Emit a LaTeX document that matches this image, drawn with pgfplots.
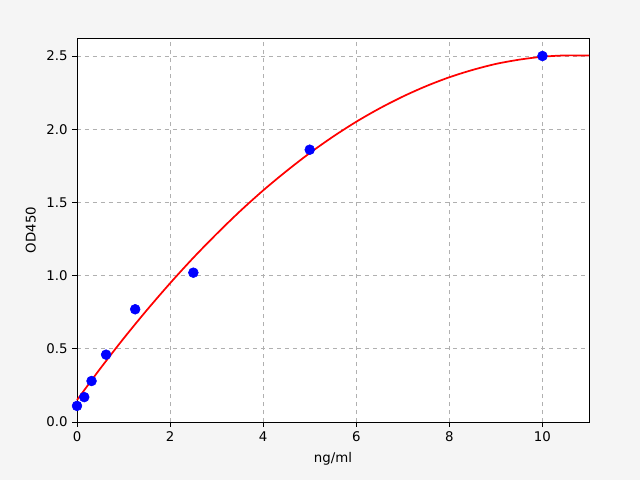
\documentclass[border=0pt]{standalone}
\usepackage{pgfplots}
\pgfplotsset{compat=1.18}
\usepackage{fontspec}
\setmainfont{DejaVu Sans}
\definecolor{figbg}{HTML}{F5F5F5}
\definecolor{gridgray}{HTML}{B0B0B0}

% fitted standard curve
\pgfplotstableread{
x y
0 0.150
0.5 0.365
1 0.570
1.5 0.764
2 0.948
2.5 1.122
3 1.285
3.5 1.439
4 1.582
4.5 1.714
5 1.837
5.5 1.949
6 2.051
6.5 2.142
7 2.223
7.5 2.294
8 2.355
8.5 2.405
9 2.446
9.5 2.475
10 2.495
10.5 2.504
11 2.503
}\curvetable

% measured standards
\pgfplotstableread{
x y
0 0.11
0.156 0.17
0.3125 0.28
0.625 0.46
1.25 0.77
2.5 1.02
5 1.86
10 2.50
}\pointtable

\begin{document}
\begin{tikzpicture}
\fill[figbg] (-57.75pt,-43.5pt) rectangle (422.25pt,316.5pt);
\begin{axis}[
    at={(0,0)}, anchor=south west,
    scale only axis,
    width=384pt, height=288pt,
    xmin=0, xmax=11, ymin=0, ymax=2.623,
    xtick={0,2,4,6,8,10},
    ytick={0,0.5,1,1.5,2,2.5},
    yticklabel style={/pgf/number format/.cd,fixed,fixed zerofill,precision=1},
    /pgf/number format/assume math mode=true,
    tick align=outside,
    major tick length=3.6pt,
    tick style={black, line width=0.6pt},
    axis line style={line width=0.6pt},
    xtick pos=bottom, ytick pos=left,
    grid=major,
    major grid style={gridgray, dashed, line width=0.6pt},
    axis background/.style={fill=white},
    font=\fontsize{10}{12}\selectfont,
    xlabel={ng/ml}, ylabel={OD450},
    xlabel style={yshift=-1pt},
    ylabel style={yshift=1pt},
    clip=false,
]
\addplot[red, line width=1.3pt, smooth] table {\curvetable};
\addplot[only marks, mark=*, mark size=3.7pt, blue, mark options={draw=blue, fill=blue}] table {\pointtable};
\end{axis}
\end{tikzpicture}
\end{document}
